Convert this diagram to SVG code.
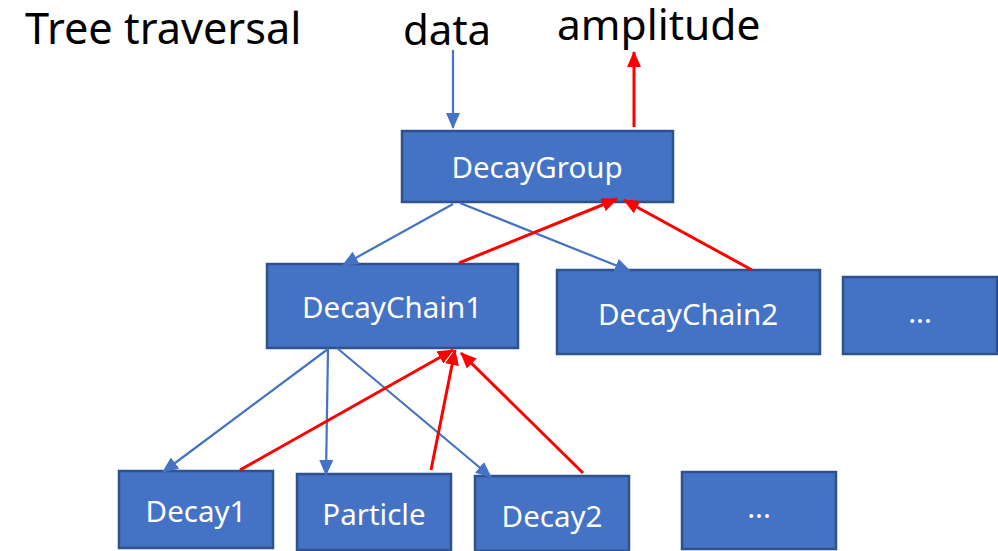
<svg xmlns="http://www.w3.org/2000/svg" width="998" height="551" viewBox="0 0 998 551">
<style>
.box{fill:#4472C4;stroke:#2F528F;stroke-width:2.5}
.lbl{font-family:"Noto Sans","Liberation Sans",sans-serif;font-size:29.5px;fill:#fff;text-anchor:middle}
.big{font-family:"Noto Sans","Liberation Sans",sans-serif;font-size:42px;fill:#000}
.b{stroke:#4472C4;stroke-width:2.2;fill:none;marker-end:url(#ab)}
.r{stroke:#FF0000;stroke-width:3;fill:none;marker-end:url(#ar)}
</style>
<defs>
<marker id="ab" markerUnits="userSpaceOnUse" markerWidth="16" markerHeight="14" refX="15" refY="7" orient="auto"><path d="M0,0 L16,7 L0,14 z" fill="#4472C4"/></marker>
<marker id="ar" markerUnits="userSpaceOnUse" markerWidth="16" markerHeight="14" refX="15" refY="7" orient="auto"><path d="M0,0 L16,7 L0,14 z" fill="#FF0000"/></marker>
</defs>
<rect width="998" height="551" fill="#fff"/>
<text class="big" x="25" y="44" style="font-size:43.3px">Tree traversal</text>
<text class="big" x="403" y="45">data</text>
<text class="big" x="557" y="40" style="font-size:42.5px">amplitude</text>
<g id="DecayGroup"><rect class="box" x="402" y="131" width="271" height="71"/><text class="lbl" x="537" y="178">DecayGroup</text></g>
<g id="DecayChain1"><rect class="box" x="267" y="264" width="251" height="84"/><text class="lbl" x="392" y="318">DecayChain1</text></g>
<g id="DecayChain2"><rect class="box" x="557" y="270" width="263" height="84"/><text class="lbl" x="688" y="325">DecayChain2</text></g>
<g id="More1"><rect class="box" x="843" y="277" width="154" height="77"/><text class="lbl" x="920" y="323">...</text></g>
<g id="Decay1"><rect class="box" x="119" y="471" width="154" height="77"/><text class="lbl" x="196" y="522">Decay1</text></g>
<g id="Particle"><rect class="box" x="297" y="474" width="154" height="76"/><text class="lbl" x="374" y="525">Particle</text></g>
<g id="Decay2"><rect class="box" x="475" y="476" width="154" height="75"/><text class="lbl" x="552" y="527">Decay2</text></g>
<g id="More2"><rect class="box" x="682" y="472" width="154" height="77"/><text class="lbl" x="759" y="518">...</text></g>
<g id="connectors">
<line class="b" x1="453" y1="50" x2="453" y2="128"/>
<line class="r" x1="634" y1="127" x2="634" y2="52"/>
<line class="b" x1="453" y1="204" x2="343" y2="265"/>
<line class="b" x1="460" y1="203" x2="630" y2="271"/>
<line class="r" x1="459" y1="263" x2="617" y2="199"/>
<line class="r" x1="752" y1="270" x2="624" y2="200"/>
<line class="b" x1="328" y1="349" x2="163" y2="472"/>
<line class="b" x1="328" y1="349" x2="326" y2="475"/>
<line class="b" x1="337" y1="348" x2="491" y2="477"/>
<line class="r" x1="240" y1="470" x2="453" y2="350"/>
<line class="r" x1="431" y1="470" x2="455" y2="350"/>
<line class="r" x1="583" y1="473" x2="461" y2="353"/>
</g>
</svg>
